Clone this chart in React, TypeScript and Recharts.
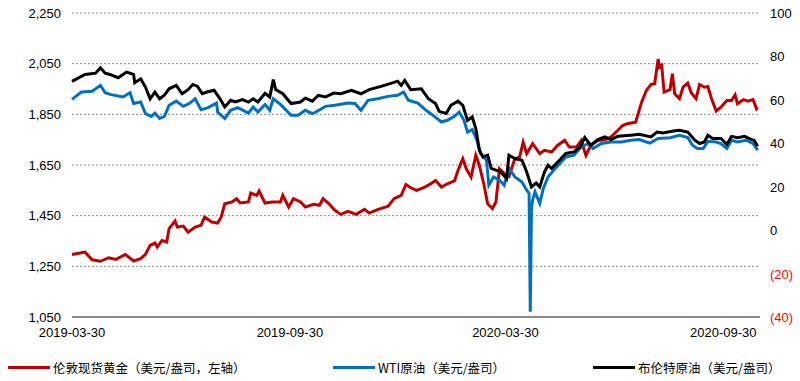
import { LineChart, Line, XAxis, YAxis, CartesianGrid, Legend } from "recharts"

// 伦敦现货黄金 (USD/oz, left axis)
const goldSeries: [string, number][] = [
  ["2019-03-30", 1297], ["2019-04-10", 1306], ["2019-04-16", 1276], ["2019-04-23", 1270],
  ["2019-04-30", 1284], ["2019-05-06", 1277], ["2019-05-14", 1297], ["2019-05-21", 1271],
  ["2019-05-27", 1280], ["2019-05-31", 1297], ["2019-06-04", 1333], ["2019-06-08", 1342],
  ["2019-06-10", 1326], ["2019-06-14", 1352], ["2019-06-18", 1346], ["2019-06-20", 1399],
  ["2019-06-25", 1429], ["2019-06-27", 1405], ["2019-07-02", 1409], ["2019-07-06", 1385],
  ["2019-07-12", 1405], ["2019-07-17", 1412], ["2019-07-20", 1445], ["2019-07-26", 1425],
  ["2019-07-31", 1421], ["2019-08-03", 1445], ["2019-08-06", 1497], ["2019-08-12", 1504],
  ["2019-08-16", 1517], ["2019-08-19", 1500], ["2019-08-26", 1504], ["2019-08-28", 1539],
  ["2019-09-02", 1530], ["2019-09-04", 1547], ["2019-09-09", 1500], ["2019-09-15", 1504],
  ["2019-09-22", 1504], ["2019-09-24", 1530], ["2019-09-29", 1484], ["2019-10-03", 1517],
  ["2019-10-09", 1504], ["2019-10-13", 1484], ["2019-10-20", 1495], ["2019-10-25", 1491],
  ["2019-10-28", 1517], ["2019-11-02", 1497], ["2019-11-07", 1471], ["2019-11-12", 1455],
  ["2019-11-18", 1467], ["2019-11-25", 1455], ["2019-12-02", 1475], ["2019-12-06", 1460],
  ["2019-12-13", 1474], ["2019-12-22", 1487], ["2019-12-27", 1517], ["2020-01-02", 1530],
  ["2020-01-06", 1573], ["2020-01-10", 1560], ["2020-01-15", 1550], ["2020-01-22", 1563],
  ["2020-01-27", 1576], ["2020-01-31", 1589], ["2020-02-05", 1563], ["2020-02-10", 1576],
  ["2020-02-16", 1587], ["2020-02-19", 1629], ["2020-02-23", 1675], ["2020-02-26", 1635],
  ["2020-03-01", 1602], ["2020-03-05", 1688], ["2020-03-08", 1648], ["2020-03-12", 1570],
  ["2020-03-15", 1497], ["2020-03-19", 1478], ["2020-03-22", 1504], ["2020-03-25", 1635],
  ["2020-03-29", 1616], ["2020-04-02", 1605], ["2020-04-07", 1675], ["2020-04-11", 1681],
  ["2020-04-14", 1740], ["2020-04-17", 1695], ["2020-04-22", 1734], ["2020-04-28", 1695],
  ["2020-05-02", 1708], ["2020-05-08", 1701], ["2020-05-13", 1727], ["2020-05-19", 1747],
  ["2020-05-23", 1721], ["2020-05-29", 1721], ["2020-06-02", 1747], ["2020-06-06", 1688],
  ["2020-06-10", 1727], ["2020-06-16", 1747], ["2020-06-22", 1750], ["2020-06-27", 1760],
  ["2020-07-03", 1787], ["2020-07-07", 1806], ["2020-07-11", 1813], ["2020-07-18", 1819],
  ["2020-07-23", 1898], ["2020-07-27", 1944], ["2020-07-31", 1968], ["2020-08-03", 1971],
  ["2020-08-06", 2069], ["2020-08-07", 2036], ["2020-08-09", 2043], ["2020-08-11", 1938],
  ["2020-08-16", 1947], ["2020-08-18", 2010], ["2020-08-20", 1931], ["2020-08-24", 1912],
  ["2020-08-27", 1957], ["2020-08-31", 1973], ["2020-09-03", 1934], ["2020-09-07", 1912],
  ["2020-09-10", 1968], ["2020-09-14", 1957], ["2020-09-17", 1960], ["2020-09-20", 1912],
  ["2020-09-24", 1863], ["2020-09-28", 1878], ["2020-10-03", 1905], ["2020-10-07", 1905],
  ["2020-10-10", 1927], ["2020-10-12", 1892], ["2020-10-17", 1908], ["2020-10-21", 1902],
  ["2020-10-25", 1908], ["2020-10-26", 1898], ["2020-10-28", 1872], ["2020-10-29", 1878],
]

// WTI原油 (USD/bbl, right axis)
const wtiSeries: [string, number][] = [
  ["2019-03-30", 60.2], ["2019-04-07", 63.6], ["2019-04-16", 64.0], ["2019-04-23", 66.7],
  ["2019-04-27", 63.3], ["2019-05-02", 62.4], ["2019-05-12", 61.3], ["2019-05-18", 63.3],
  ["2019-05-21", 58.3], ["2019-05-27", 59.0], ["2019-05-31", 53.7], ["2019-06-05", 52.4],
  ["2019-06-08", 53.9], ["2019-06-12", 51.4], ["2019-06-16", 52.4], ["2019-06-20", 57.5],
  ["2019-06-26", 59.4], ["2019-07-02", 57.0], ["2019-07-07", 58.3], ["2019-07-12", 60.5],
  ["2019-07-17", 55.5], ["2019-07-23", 56.4], ["2019-07-30", 58.5], ["2019-07-31", 54.4],
  ["2019-08-06", 51.4], ["2019-08-11", 55.2], ["2019-08-17", 56.4], ["2019-08-26", 53.9],
  ["2019-08-30", 56.7], ["2019-09-03", 54.4], ["2019-09-09", 57.9], ["2019-09-13", 55.2],
  ["2019-09-16", 60.5], ["2019-09-22", 57.9], ["2019-10-01", 52.9], ["2019-10-07", 52.9],
  ["2019-10-13", 55.2], ["2019-10-19", 53.7], ["2019-10-22", 54.4], ["2019-10-30", 57.0],
  ["2019-11-07", 57.5], ["2019-11-18", 58.5], ["2019-11-24", 58.3], ["2019-11-29", 55.2],
  ["2019-12-05", 59.8], ["2019-12-13", 60.5], ["2019-12-22", 61.6], ["2019-12-30", 62.1],
  ["2020-01-04", 63.6], ["2020-01-08", 59.8], ["2020-01-16", 58.5], ["2020-01-23", 55.2],
  ["2020-01-30", 52.4], ["2020-02-05", 49.8], ["2020-02-10", 50.6], ["2020-02-16", 52.4],
  ["2020-02-20", 54.4], ["2020-02-24", 50.6], ["2020-02-27", 45.2], ["2020-03-02", 46.3],
  ["2020-03-06", 41.4], ["2020-03-09", 35.3], ["2020-03-14", 32.2], ["2020-03-16", 20.7],
  ["2020-03-20", 24.5], ["2020-03-25", 23.0], ["2020-03-29", 20.7], ["2020-04-02", 28.4],
  ["2020-04-07", 24.5], ["2020-04-13", 22.2], ["2020-04-17", 18.4], ["2020-04-19", 17.0],
  ["2020-04-20", -37.6], ["2020-04-21", 10.0], ["2020-04-22", 13.8], ["2020-04-24", 17.6],
  ["2020-04-28", 12.3], ["2020-05-01", 19.2], ["2020-05-05", 24.5], ["2020-05-11", 28.4],
  ["2020-05-15", 30.7], ["2020-05-20", 33.7], ["2020-05-27", 34.5], ["2020-06-02", 38.3],
  ["2020-06-08", 39.9], ["2020-06-12", 37.6], ["2020-06-19", 39.9], ["2020-06-27", 40.6],
  ["2020-07-06", 40.6], ["2020-07-14", 41.4], ["2020-07-21", 41.7], ["2020-07-30", 40.1],
  ["2020-08-06", 42.2], ["2020-08-16", 42.6], ["2020-08-24", 43.7], ["2020-08-31", 42.6],
  ["2020-09-04", 39.1], ["2020-09-08", 37.6], ["2020-09-13", 37.6], ["2020-09-17", 40.9],
  ["2020-09-24", 40.6], ["2020-09-28", 39.9], ["2020-10-03", 37.6], ["2020-10-07", 41.4],
  ["2020-10-12", 40.6], ["2020-10-19", 41.4], ["2020-10-25", 39.9], ["2020-10-29", 36.8],
]

// 布伦特原油 (USD/bbl, right axis)
const brentSeries: [string, number][] = [
  ["2019-03-30", 68.5], ["2019-04-10", 71.7], ["2019-04-19", 72.3], ["2019-04-23", 74.8],
  ["2019-04-27", 72.3], ["2019-05-01", 71.7], ["2019-05-08", 70.2], ["2019-05-15", 72.8],
  ["2019-05-21", 71.7], ["2019-05-22", 67.9], ["2019-05-27", 69.7], ["2019-05-31", 65.9],
  ["2019-06-04", 60.5], ["2019-06-08", 63.6], ["2019-06-12", 60.5], ["2019-06-16", 62.1],
  ["2019-06-20", 65.1], ["2019-06-26", 66.7], ["2019-07-01", 62.8], ["2019-07-06", 64.7],
  ["2019-07-10", 67.1], ["2019-07-14", 66.2], ["2019-07-18", 62.8], ["2019-07-22", 63.6],
  ["2019-07-28", 64.4], ["2019-08-02", 60.5], ["2019-08-06", 56.7], ["2019-08-11", 59.8],
  ["2019-08-15", 59.0], ["2019-08-21", 60.1], ["2019-08-26", 59.0], ["2019-08-30", 60.5],
  ["2019-09-03", 59.0], ["2019-09-09", 63.0], ["2019-09-13", 61.3], ["2019-09-16", 69.3],
  ["2019-09-18", 64.7], ["2019-09-24", 62.8], ["2019-10-01", 58.3], ["2019-10-09", 59.0],
  ["2019-10-13", 60.8], ["2019-10-19", 59.4], ["2019-10-24", 62.1], ["2019-10-30", 61.3],
  ["2019-11-06", 63.1], ["2019-11-12", 62.8], ["2019-11-21", 64.4], ["2019-11-29", 62.8],
  ["2019-12-06", 64.7], ["2019-12-16", 66.2], ["2019-12-25", 67.7], ["2019-12-30", 68.6],
  ["2020-01-02", 66.7], ["2020-01-05", 69.0], ["2020-01-10", 64.7], ["2020-01-19", 65.1],
  ["2020-01-25", 60.5], ["2020-01-31", 58.3], ["2020-02-03", 54.7], ["2020-02-09", 53.7],
  ["2020-02-13", 57.5], ["2020-02-19", 59.4], ["2020-02-23", 57.5], ["2020-02-27", 50.6],
  ["2020-03-02", 52.1], ["2020-03-05", 46.8], ["2020-03-08", 36.8], ["2020-03-11", 33.7],
  ["2020-03-15", 34.5], ["2020-03-18", 28.4], ["2020-03-22", 27.6], ["2020-03-26", 26.8],
  ["2020-03-31", 23.8], ["2020-04-02", 34.5], ["2020-04-07", 33.0], ["2020-04-13", 32.2],
  ["2020-04-17", 26.8], ["2020-04-21", 19.9], ["2020-04-25", 21.7], ["2020-04-28", 19.9],
  ["2020-05-02", 26.8], ["2020-05-05", 29.9], ["2020-05-08", 28.4], ["2020-05-12", 30.7],
  ["2020-05-16", 33.0], ["2020-05-20", 35.3], ["2020-05-27", 36.0], ["2020-06-01", 38.3],
  ["2020-06-05", 42.6], ["2020-06-10", 39.1], ["2020-06-16", 41.7], ["2020-06-22", 42.9],
  ["2020-06-27", 41.7], ["2020-07-03", 43.2], ["2020-07-14", 43.7], ["2020-07-21", 44.1],
  ["2020-07-31", 42.9], ["2020-08-05", 45.2], ["2020-08-10", 44.7], ["2020-08-19", 45.7],
  ["2020-08-24", 46.0], ["2020-08-31", 45.2], ["2020-09-06", 41.4], ["2020-09-10", 39.9],
  ["2020-09-14", 40.6], ["2020-09-17", 43.7], ["2020-09-21", 42.2], ["2020-09-28", 42.2],
  ["2020-10-03", 39.5], ["2020-10-07", 43.2], ["2020-10-12", 42.6], ["2020-10-18", 43.2],
  ["2020-10-24", 41.7], ["2020-10-26", 41.4], ["2020-10-29", 38.6],
]

const dateTicks = ["2019-03-30", "2019-09-30", "2020-03-30", "2020-09-30"]
const leftTicks = [1050, 1250, 1450, 1650, 1850, 2050, 2250]
const rightTicks = [-40, -20, 0, 20, 40, 60, 80, 100]

const legendItems = [
  { name: "伦敦现货黄金（美元/盎司，左轴）", color: "#C00000", left: 8 },
  { name: "WTI原油（美元/盎司）", color: "#0070C0", left: 333 },
  { name: "布伦特原油（美元/盎司）", color: "#000000", left: 593 },
]

const font = "'Liberation Sans', 'Noto Sans CJK SC', sans-serif"
const toPoints = (rows: [string, number][]) => rows.map(([d, v]) => ({ t: Date.parse(d), v }))
const fmtDate = (t: number) => new Date(t).toISOString().slice(0, 10)

function RightTick({ x, y, payload }: any) {
  const v = payload.value as number
  return (
    <text x={x} y={y} dy={5} textAnchor="start" fontSize={13} fontFamily={font} fill={v < 0 ? "#FF0000" : "#000"}>
      {v < 0 ? `(${Math.abs(v)})` : v}
    </text>
  )
}

function LegendBox() {
  return (
    <div style={{ position: "relative", width: 800, height: 20, fontFamily: "'Noto Sans CJK SC', sans-serif", fontSize: 12.5 }}>
      {legendItems.map(it => (
        <div key={it.name} style={{ position: "absolute", left: it.left, top: 0, display: "flex", alignItems: "center", whiteSpace: "nowrap" }}>
          <span style={{ display: "inline-block", width: 42, height: 3, background: it.color, marginRight: 3 }} />
          <span style={{ color: "#000" }}>{it.name}</span>
        </div>
      ))}
    </div>
  )
}

export default function App() {
  return (
    <div style={{ position: "absolute", left: 0, top: 0, background: "#fff" }}>
      <LineChart width={800} height={381} margin={{ top: 13, right: 0, bottom: 34, left: 0 }}>
        <CartesianGrid yAxisId="left" vertical={false} horizontal stroke="#8c8c8c" strokeDasharray="2 2" />
        <XAxis
          dataKey="t"
          type="number"
          scale="time"
          domain={[Date.parse("2019-03-30"), Date.parse("2020-10-31")]}
          ticks={dateTicks.map(d => Date.parse(d))}
          tickFormatter={fmtDate}
          height={30}
          tickLine={false}
          tickMargin={5}
          axisLine={{ stroke: "#8c8c8c", strokeWidth: 2 }}
          tick={{ fontSize: 13, fontFamily: font, fill: "#000" }}
          allowDuplicatedCategory={false}
        />
        <YAxis
          yAxisId="left"
          width={72}
          domain={[1050, 2250]}
          ticks={leftTicks}
          tickFormatter={(v: number) => v.toLocaleString("en-US")}
          axisLine={false}
          tickLine={false}
          tickMargin={5}
          tick={{ fontSize: 13, fontFamily: font, fill: "#000" }}
        />
        <YAxis
          yAxisId="right"
          orientation="right"
          width={40}
          domain={[-40, 100]}
          ticks={rightTicks}
          axisLine={false}
          tickLine={false}
          tickMargin={4}
          tick={<RightTick />}
        />
        <Legend verticalAlign="middle" align="center" wrapperStyle={{ left: 0, top: 358, width: 800 }} content={() => <LegendBox />} />
        <Line yAxisId="left" data={toPoints(goldSeries)} dataKey="v" name="gold" stroke="#C00000" strokeWidth={3} dot={false} isAnimationActive={false} />
        <Line yAxisId="right" data={toPoints(wtiSeries)} dataKey="v" name="wti" stroke="#0070C0" strokeWidth={3} dot={false} isAnimationActive={false} />
        <Line yAxisId="right" data={toPoints(brentSeries)} dataKey="v" name="brent" stroke="#000000" strokeWidth={3} dot={false} isAnimationActive={false} />
      </LineChart>
    </div>
  )
}
